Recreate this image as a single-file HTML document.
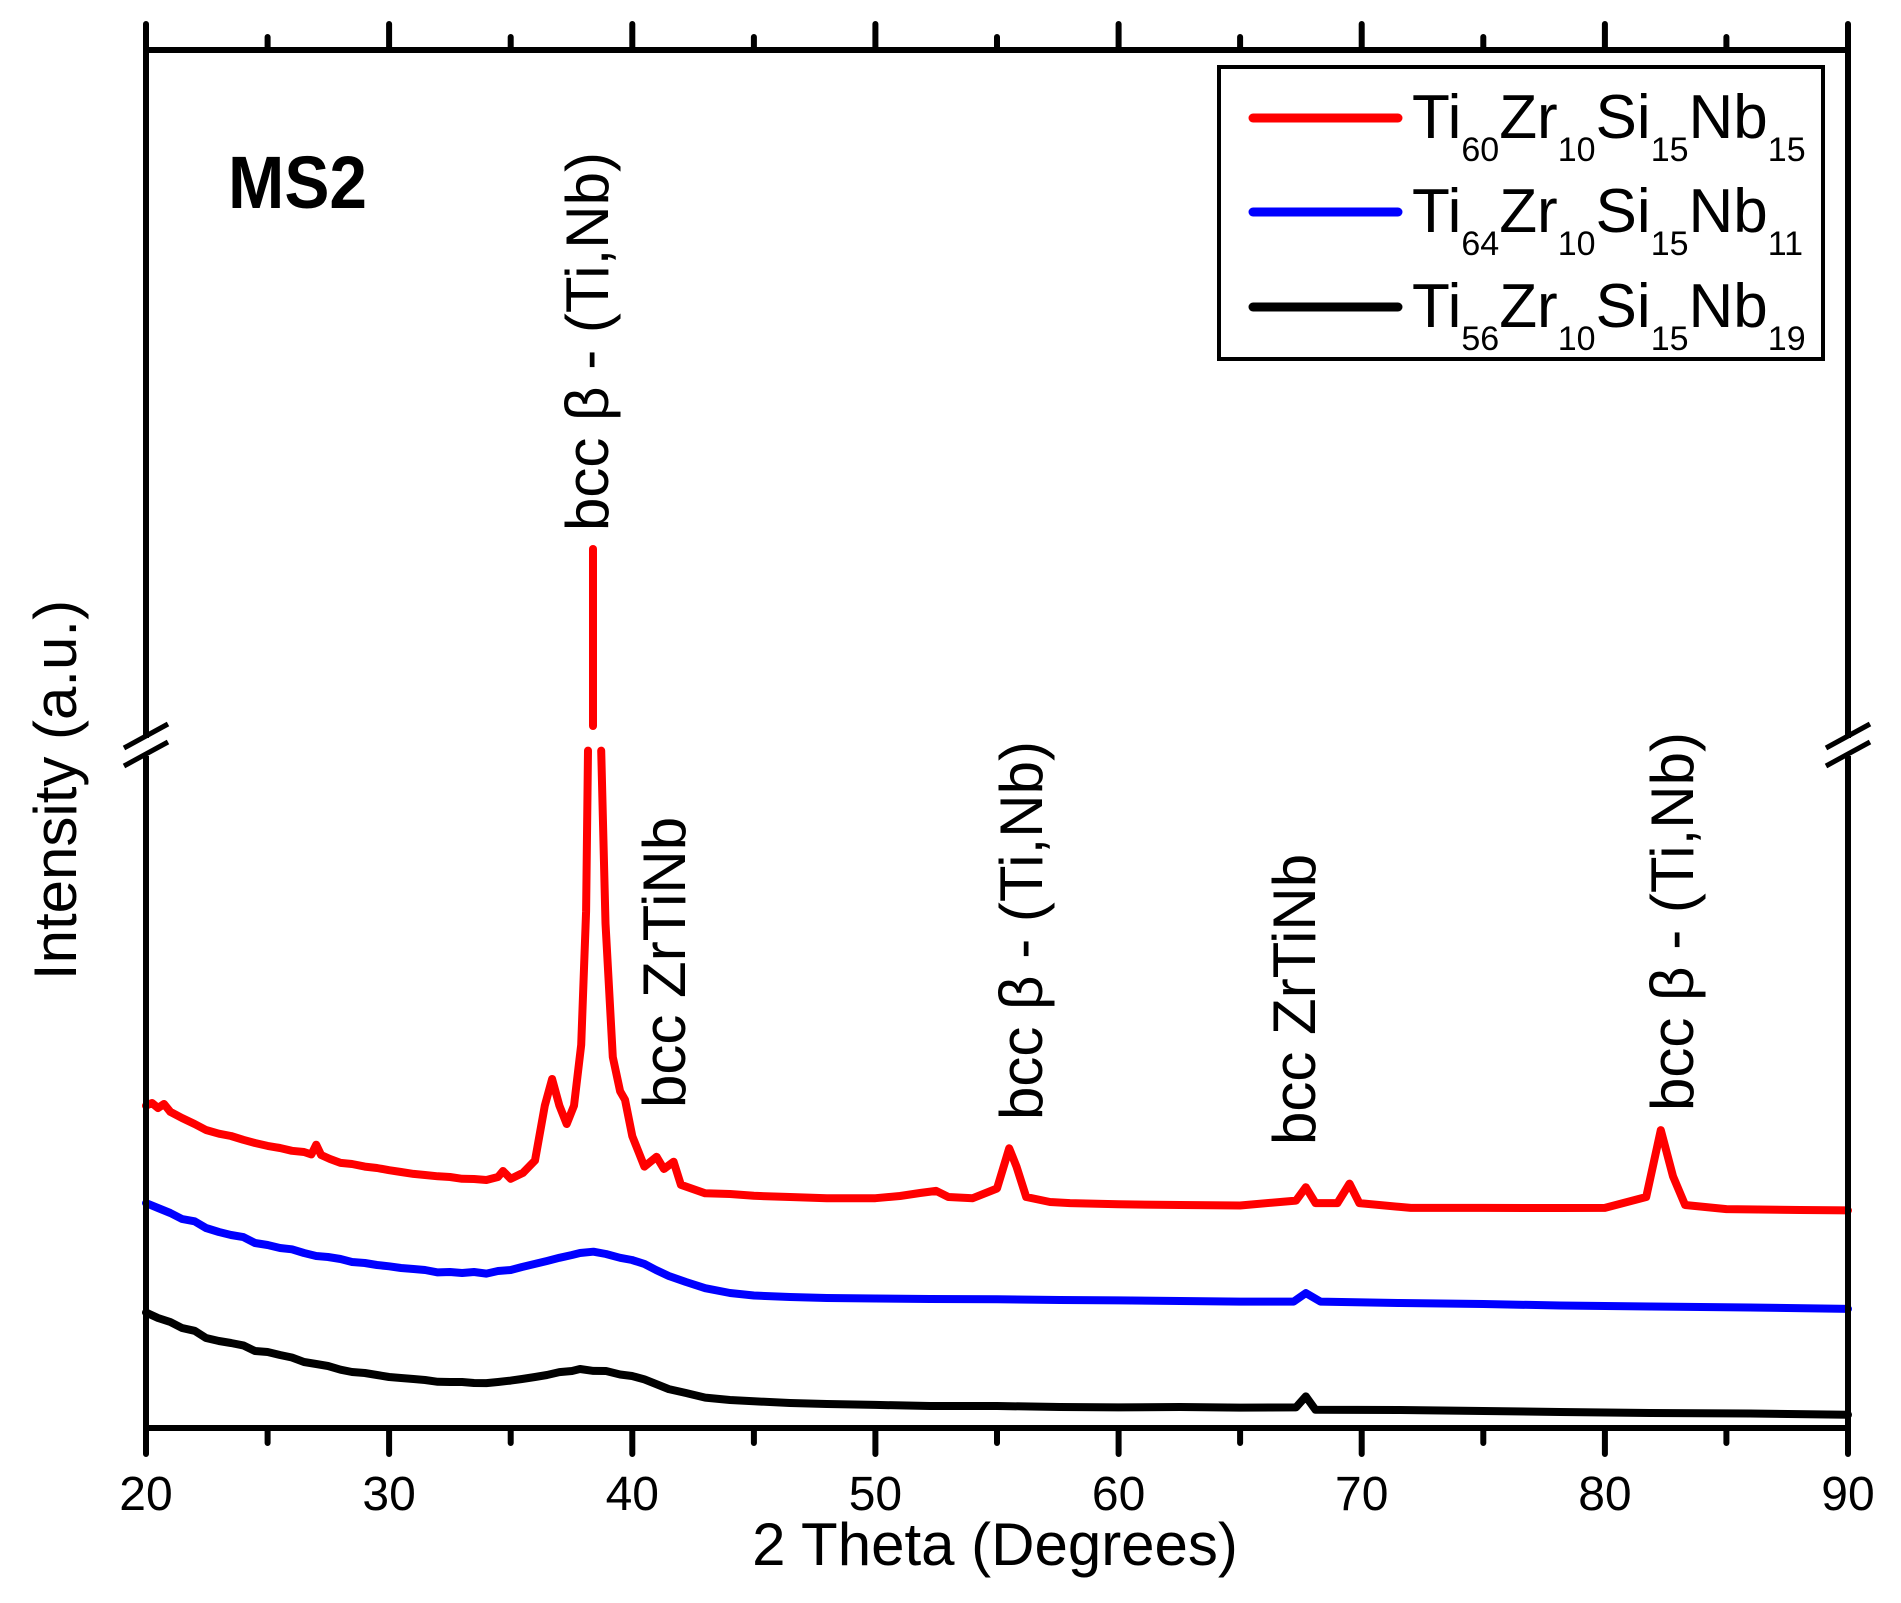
<!DOCTYPE html>
<html><head><meta charset="utf-8"><style>
html,body{margin:0;padding:0;background:#fff;}
svg{display:block;font-family:"Liberation Sans",Arial,sans-serif;}
</style></head><body>
<svg width="1901" height="1603" viewBox="0 0 1901 1603" xmlns="http://www.w3.org/2000/svg">
<rect width="1901" height="1603" fill="#fff"/>
<g fill="none" stroke-linejoin="round" stroke-linecap="round" stroke-width="8">
<path stroke="#000" d="M146 1312.5 L158 1318 L170.3 1322 L182 1328 L194.6 1330.8 L206 1338 L218.9 1341 L231 1343 L243.3 1345.4 L255 1351 L267.6 1352 L280 1355 L291.9 1357.5 L304 1362 L316.2 1364 L328 1366 L340.5 1369.7 L352 1372 L364.8 1373 L377 1375 L389.1 1377 L401 1378 L413.5 1379 L425 1380 L437.8 1381.8 L450 1382 L462.1 1382 L474 1383 L486.4 1383.1 L498 1382 L510.7 1380.6 L522 1379 L535 1377 L547 1375 L559.4 1372.1 L572 1371 L580 1369 L593.4 1370.9 L606 1371 L620.1 1374.5 L632 1376 L644.4 1379.4 L656 1384 L668.8 1389.1 L686 1393 L705.2 1397.6 L730 1400 L753.9 1401.3 L790 1403 L826.8 1404 L875.4 1404.9 L930 1406 L997 1406 L1060 1407 L1118.6 1407.4 L1180 1407 L1240.1 1407.6 L1296 1407.4 L1305.8 1396.4 L1315.5 1409.8 L1400 1410 L1483.3 1411 L1560 1412 L1650 1413 L1750 1413.5 L1848 1414.7"/>
<path stroke="#0000ff" d="M146 1203.1 L158 1208 L170.3 1213 L182 1219 L194.6 1221.3 L206 1228 L218.9 1232 L231 1235 L243.3 1237.1 L255 1243 L267.6 1245 L280 1248 L291.9 1249.3 L304 1253 L316.2 1256 L328 1257 L340.5 1259 L352 1262 L364.8 1263 L377 1265 L389.1 1266.3 L401 1268 L413.5 1269 L425 1270 L437.8 1272.4 L450 1272 L462.1 1273 L474 1272 L486.4 1273.6 L498 1271 L510.7 1270 L522 1267 L535 1263.9 L547 1261 L559.4 1257.8 L572 1255 L580 1253 L593.4 1251.7 L606 1254 L620.1 1257.8 L632 1260 L644.4 1263.9 L656 1270 L668.8 1276 L686 1282 L705.2 1288.2 L730 1293 L753.9 1295.5 L790 1297 L826.8 1298 L875.4 1298.5 L930 1299 L997 1299.2 L1060 1300 L1118.6 1300.4 L1180 1301 L1240.1 1301.6 L1293.6 1301.6 L1305.8 1293.1 L1320.4 1301.6 L1400 1303 L1483.3 1304 L1560 1305.5 L1650 1306.5 L1750 1307.5 L1848 1308.9"/>
<path stroke="#ff0000" d="M146 1105.7 L152 1103 L158 1108 L164 1104 L170.3 1111.8 L182 1118 L194.6 1124 L206 1130 L218.9 1133.7 L231 1136 L243.3 1139.8 L255 1143 L267.6 1145.9 L280 1148 L291.9 1150.8 L304 1152 L311.4 1154.4 L316.2 1144.7 L321.1 1155 L330 1159 L340.5 1162.9 L352 1164 L364.8 1166.6 L377 1168 L389.1 1170.2 L401 1172 L413.5 1173.9 L425 1175 L437.8 1176.3 L450 1177 L462.1 1178.8 L474 1179 L486.4 1180 L498 1177 L503 1171 L510.7 1178.8 L522.9 1172.9 L535 1160.5 L544.8 1105.7 L552.1 1079 L559.4 1105.7 L566.7 1124 L574 1105.7 L581.2 1044.9 L586.1 911.1 L588 750.6 M601.2 750.6 L605.5 923.3 L612.8 1057.1 L620.1 1091.2 L625 1099.7 L632.3 1136.2 L644.4 1166.6 L656.6 1156.8 L663.9 1169 L673.6 1161.7 L680.9 1184.8 L705.2 1193.3 L730 1194 L753.9 1195.8 L790 1197 L826.8 1198.2 L875.4 1198.2 L900 1196 L920 1193 L936.2 1190.9 L948.4 1197 L972.7 1198.2 L997 1188.5 L1009.2 1148.3 L1016.5 1166.6 L1026.2 1197 L1050 1202 L1070 1203.1 L1118.6 1204.3 L1180 1205 L1240.1 1205.5 L1296 1200.6 L1305.8 1187.2 L1315.5 1203.1 L1337.4 1203.1 L1349.5 1183.6 L1359.3 1203.1 L1410.8 1207.9 L1483.3 1207.9 L1560 1208 L1604.9 1207.9 L1646.2 1197 L1660.8 1130.1 L1673 1176.3 L1685.1 1205 L1726.4 1209.1 L1800 1210 L1848 1210.4"/>
<path stroke="#ff0000" d="M593 726 L593 549"/>
</g>
<!-- frame -->
<g stroke="#000" stroke-width="6" fill="none" stroke-linecap="round">
<rect x="146" y="50" width="1702" height="1378" stroke-linecap="butt"/>
<path d="M146 1428V1454 M267.6 1428V1443 M389.1 1428V1454 M510.7 1428V1443 M632.3 1428V1454 M753.9 1428V1443 M875.4 1428V1454 M997 1428V1443 M1118.6 1428V1454 M1240.1 1428V1443 M1361.7 1428V1454 M1483.3 1428V1443 M1604.9 1428V1454 M1726.4 1428V1443 M1848 1428V1454"/>
<path d="M146 50V24 M267.6 50V37 M389.1 50V24 M510.7 50V37 M632.3 50V24 M753.9 50V37 M875.4 50V24 M997 50V37 M1118.6 50V24 M1240.1 50V37 M1361.7 50V24 M1483.3 50V37 M1604.9 50V24 M1726.4 50V37 M1848 50V24"/>
</g>
<!-- axis breaks -->
<g>
<rect x="138" y="738" width="16" height="18" fill="#fff"/>
<rect x="1840" y="738" width="16" height="18" fill="#fff"/>
<g stroke="#000" stroke-width="5">
<line x1="124" y1="748" x2="168" y2="724"/><line x1="124" y1="766" x2="168" y2="742"/>
<line x1="1826" y1="748" x2="1870" y2="724"/><line x1="1826" y1="766" x2="1870" y2="742"/>
</g>
</g>
<g font-size="48" text-anchor="middle" fill="#000">
<text x="146" y="1510">20</text><text x="389.1" y="1510">30</text><text x="632.3" y="1510">40</text><text x="875.4" y="1510">50</text><text x="1118.6" y="1510">60</text><text x="1361.7" y="1510">70</text><text x="1604.9" y="1510">80</text><text x="1848" y="1510">90</text>
</g>
<text x="995" y="1565" font-size="60" text-anchor="middle">2 Theta (Degrees)</text>
<text transform="translate(76,790) rotate(-90)" font-size="60" text-anchor="middle">Intensity (a.u.)</text>
<text x="228" y="208" font-size="74" font-weight="bold" textLength="139" lengthAdjust="spacingAndGlyphs">MS2</text>
<g font-size="60">
<text transform="translate(608,531) rotate(-90)">bcc β - (Ti,Nb)</text>
<text transform="translate(685,1108) rotate(-90)">bcc ZrTiNb</text>
<text transform="translate(1042,1120) rotate(-90)">bcc β - (Ti,Nb)</text>
<text transform="translate(1315,1145) rotate(-90)">bcc ZrTiNb</text>
<text transform="translate(1693,1111) rotate(-90)">bcc β - (Ti,Nb)</text>
</g>
<!-- legend -->
<rect x="1219" y="67" width="604" height="292" fill="#fff" stroke="#000" stroke-width="4"/>
<g stroke-width="9" stroke-linecap="round">
<line x1="1253" y1="118" x2="1398" y2="118" stroke="#ff0000"/>
<line x1="1253" y1="212" x2="1398" y2="212" stroke="#0000ff"/>
<line x1="1253" y1="307" x2="1398" y2="307" stroke="#000"/>
</g>
<g font-size="62" fill="#000">
<text x="1412" y="138">Ti<tspan font-size="34" dy="23">60</tspan><tspan dy="-23">Zr</tspan><tspan font-size="34" dy="23">10</tspan><tspan dy="-23">Si</tspan><tspan font-size="34" dy="23">15</tspan><tspan dy="-23">Nb</tspan><tspan font-size="34" dy="23">15</tspan></text>
<text x="1412" y="232">Ti<tspan font-size="34" dy="23">64</tspan><tspan dy="-23">Zr</tspan><tspan font-size="34" dy="23">10</tspan><tspan dy="-23">Si</tspan><tspan font-size="34" dy="23">15</tspan><tspan dy="-23">Nb</tspan><tspan font-size="34" dy="23">11</tspan></text>
<text x="1412" y="327">Ti<tspan font-size="34" dy="23">56</tspan><tspan dy="-23">Zr</tspan><tspan font-size="34" dy="23">10</tspan><tspan dy="-23">Si</tspan><tspan font-size="34" dy="23">15</tspan><tspan dy="-23">Nb</tspan><tspan font-size="34" dy="23">19</tspan></text>
</g>
</svg>
</body></html>
